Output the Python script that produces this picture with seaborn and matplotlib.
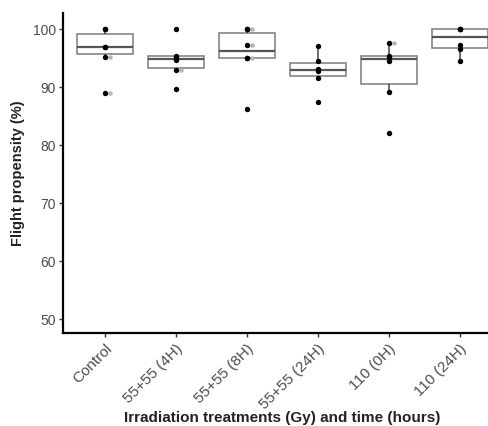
import matplotlib
matplotlib.use("Agg")
import matplotlib.pyplot as plt
import matplotlib.transforms as mtransforms
import numpy as np
import pandas as pd
import seaborn as sns

# Treatment groups and the flight propensity of each replicate (%)
treatments = ["Control", "55+55 (4H)", "55+55 (8H)", "55+55 (24H)", "110 (0H)", "110 (24H)"]
control = [100, 100, 96.9, 96.9, 95.3, 89.1]
g55_4h = [100, 95.5, 95.1, 94.7, 93.0, 89.7]
g55_8h = [100, 100, 97.3, 95.1, 95.1, 86.3]
g55_24h = [97.2, 94.6, 93.2, 92.8, 91.6, 87.4]
g110_0h = [97.7, 95.5, 95.2, 94.6, 89.2, 82.2]
g110_24h = [100, 100, 100, 97.4, 96.7, 94.6]

# Replicates drawn a second time in light grey, set a little to the right
grey_treatment = ["Control", "Control", "55+55 (4H)", "55+55 (8H)", "55+55 (8H)", "55+55 (8H)", "110 (0H)"]
grey_value = [95.3, 89.1, 93.0, 100, 97.3, 95.1, 97.7]

groups = [control, g55_4h, g55_8h, g55_24h, g110_0h, g110_24h]
df = pd.DataFrame({
    "treatment": np.repeat(treatments, [len(g) for g in groups]),
    "propensity": np.concatenate(groups),
})
df_grey = pd.DataFrame({"treatment": grey_treatment, "propensity": grey_value})

sns.set_style("white")
plt.rcParams["font.family"] = ["Liberation Sans", "DejaVu Sans"]

fig = plt.figure(figsize=(4.89, 4.26), dpi=100)
ax = fig.add_axes([0.129, 0.218, 0.871, 0.751])

sns.boxplot(
    data=df, x="treatment", y="propensity", order=treatments,
    width=0.78, showfliers=False, whis=1.5, color="white", ax=ax,
    boxprops=dict(facecolor="white", edgecolor="#7a7a7a", linewidth=1.1),
    whiskerprops=dict(color="#444444", linewidth=1.1),
    capprops=dict(linewidth=0),
    medianprops=dict(color="#555555", linewidth=1.6),
)

n_before = len(ax.collections)
sns.stripplot(
    data=df_grey, x="treatment", y="propensity", order=treatments,
    jitter=False, color="#b5b5b5", size=3.2, linewidth=0, ax=ax, zorder=3,
)
shift = mtransforms.ScaledTranslation(5 / 100, 0, fig.dpi_scale_trans)
for coll in ax.collections[n_before:]:
    coll.set_offset_transform(coll.get_offset_transform() + shift)

sns.stripplot(
    data=df, x="treatment", y="propensity", order=treatments,
    jitter=False, color="black", size=3.9, linewidth=0, ax=ax, zorder=4,
)

ax.set_ylim(47.6, 102.8)
ax.set_xlim(-0.59, 5.41)
ax.set_yticks([50, 60, 70, 80, 90, 100])
ax.tick_params(axis="both", which="both", direction="out", length=3, width=1,
               color="#333333", labelcolor="#4d4d4d", labelsize=10, pad=2,
               bottom=True, left=True)
ax.tick_params(axis="x", labelsize=11, pad=3)
plt.setp(ax.get_xticklabels(), rotation=45, ha="right", rotation_mode="anchor")

for side in ["top", "right"]:
    ax.spines[side].set_visible(False)
for side in ["left", "bottom"]:
    ax.spines[side].set_color("black")
    ax.spines[side].set_linewidth(1.6)

ax.set_xlabel("Irradiation treatments (Gy) and time (hours)", fontsize=11,
              fontweight="bold", color="#222222", va="center")
ax.xaxis.set_label_coords(0.514, -0.266)
ax.set_ylabel("Flight propensity (%)", fontsize=10.5, fontweight="bold",
              color="#222222", labelpad=6)

fig.savefig("out.png", dpi=100)
